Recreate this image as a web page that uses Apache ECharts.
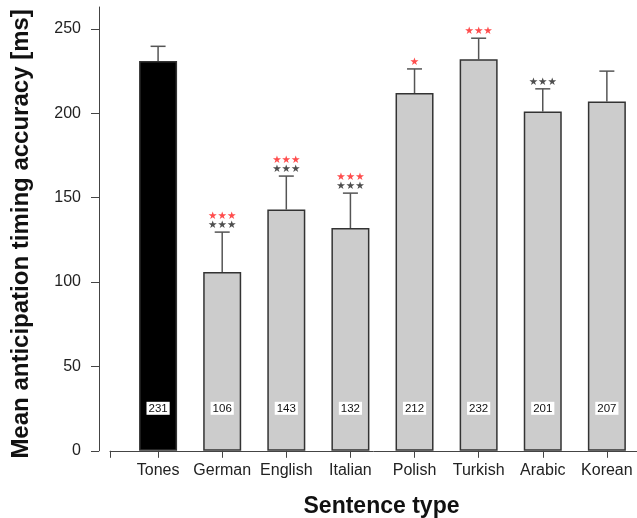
<!DOCTYPE html>
<html>
<head>
<meta charset="utf-8">
<title>Mean anticipation timing accuracy</title>
<script src="https://cdn.jsdelivr.net/npm/echarts@6/dist/echarts.min.js"></script>
<style>
  html, body { margin: 0; padding: 0; background: #fff; }
  #main { width: 637px; height: 518px; }
</style>
</head>
<body>
<div id="main"></div>
<script>
// data
var categories = ['Tones', 'German', 'English', 'Italian', 'Polish', 'Turkish', 'Arabic', 'Korean'];
var positions = [1, 2, 3, 4, 5, 6, 7, 8];
var means = [231, 106, 143, 132, 212, 232, 201, 207];
var errors = [8.7, 23.6, 19.8, 20.7, 14.3, 12.5, 13.5, 18];
var sigBlack = ['', '***', '***', '***', '', '', '***', ''];
var sigRed = ['', '***', '***', '***', '*', '***', '', ''];
var yTicks = [0, 50, 100, 150, 200, 250];

var font = 'Liberation Sans, Arial, sans-serif';

var barData = positions.map(function (p, i) {
    return {
        value: [p, means[i]],
        itemStyle: { color: i === 0 ? '#000000' : '#cccccc' }
    };
});

var errData = positions.map(function (p, i) {
    return [p, means[i], means[i] + errors[i]];
});

function starText(s) {
    return s.replace(/\*/g, '\u2605');
}

var blackStars = positions.map(function (p, i) {
    return {
        value: [p, means[i] + errors[i]],
        label: { show: sigBlack[i] !== '', formatter: starText(sigBlack[i]), distance: 2 }
    };
});
var redStars = positions.map(function (p, i) {
    return {
        value: [p, means[i] + errors[i]],
        label: { show: sigRed[i] !== '', formatter: starText(sigRed[i]), distance: sigBlack[i] ? 11 : 2 }
    };
});

var chart = echarts.init(document.getElementById('main'));

var option = {
    animation: false,
    grid: { left: 110, right: 0, top: 7, bottom: 67.2, containLabel: false, outerBoundsMode: 'none' },
    xAxis: {
        type: 'value',
        min: 0.25,
        max: 8.47,
        name: 'Sentence type',
        nameLocation: 'middle',
        nameGap: 44,
        nameTextStyle: { fontFamily: font, fontWeight: 'bold', fontSize: 23, color: '#111', padding: [0, 0, 0, 16] },
        axisLine: { show: true, lineStyle: { color: '#444', width: 1 } },
        axisTick: { show: true, inside: false, length: 7, lineStyle: { color: '#444' }, customValues: [0.25].concat(positions) },
        axisLabel: {
            show: true,
            margin: 12,
            fontFamily: font,
            fontSize: 16,
            color: '#222',
            customValues: positions,
            formatter: function (v) { return categories[Math.round(v) - 1]; }
        },
        splitLine: { show: false }
    },
    yAxis: {
        type: 'value',
        min: 0,
        max: 263,
        offset: 11,
        name: 'Mean anticipation timing accuracy [ms]',
        nameLocation: 'middle',
        nameGap: 66,
        nameTextStyle: { fontFamily: font, fontWeight: 'bold', fontSize: 24, color: '#111', padding: [0, 10, 0, 0] },
        axisLine: { show: true, lineStyle: { color: '#444', width: 1 } },
        axisTick: { show: true, length: 8, lineStyle: { color: '#444' }, customValues: yTicks },
        axisLabel: { margin: 18, fontFamily: font, fontSize: 16, color: '#222', customValues: yTicks },
        splitLine: { show: false }
    },
    series: [
        {
            type: 'bar',
            data: barData,
            barWidth: 38,
            itemStyle: { borderColor: '#333', borderWidth: 1.5 },
            label: {
                show: true,
                position: 'insideBottom',
                distance: 36,
                formatter: function (p) { return p.value[1]; },
                fontFamily: font,
                fontSize: 11.5,
                lineHeight: 12,
                color: '#111',
                backgroundColor: '#fff',
                padding: [1, 2, 0, 2]
            },
            z: 2
        },
        {
            type: 'custom',
            data: errData,
            renderItem: function (params, api) {
                var base = api.coord([api.value(0), api.value(1)]);
                var top = api.coord([api.value(0), api.value(2)]);
                var half = 7.5;
                var style = { stroke: '#555', lineWidth: 1.5 };
                return {
                    type: 'group',
                    children: [
                        { type: 'line', shape: { x1: top[0], y1: base[1], x2: top[0], y2: top[1] }, style: style },
                        { type: 'line', shape: { x1: top[0] - half, y1: top[1], x2: top[0] + half, y2: top[1] }, style: style }
                    ]
                };
            },
            z: 1
        },
        {
            type: 'scatter',
            data: blackStars,
            symbolSize: 0,
            silent: true,
            label: { position: 'top', fontFamily: 'DejaVu Sans', fontSize: 10.5, lineHeight: 9, color: '#222' },
            z: 3
        },
        {
            type: 'scatter',
            data: redStars,
            symbolSize: 0,
            silent: true,
            label: { position: 'top', fontFamily: 'DejaVu Sans', fontSize: 10.5, lineHeight: 9, color: '#ff2020' },
            z: 3
        }
    ]
};

chart.setOption(option);
</script>
</body>
</html>
